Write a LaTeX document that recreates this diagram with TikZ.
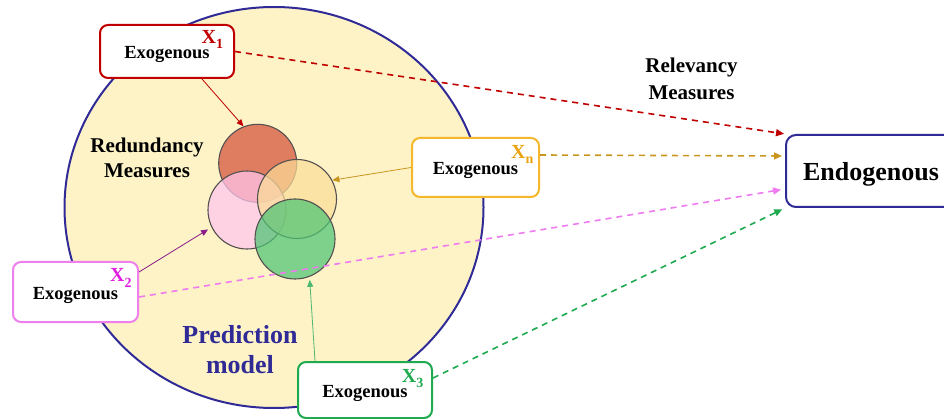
\documentclass[tikz,border=0pt]{standalone}
\usepackage{fontspec}
\setmainfont{Liberation Serif}
\usetikzlibrary{arrows.meta}

\definecolor{navy}{HTML}{2F2A96}
\definecolor{modelbg}{HTML}{FDF3C7}
\definecolor{xone}{HTML}{C00000}
\definecolor{xnbox}{HTML}{F5B82C}
\definecolor{xnlab}{HTML}{E9A40F}
\definecolor{xnline}{HTML}{C8961E}
\definecolor{xtwobox}{HTML}{EE80EE}
\definecolor{xtwolab}{HTML}{E21DE2}
\definecolor{xtwoline}{HTML}{F07AF0}
\definecolor{xtwoarrow}{HTML}{8B1A8B}
\definecolor{xthree}{HTML}{1FAA50}
\definecolor{xthreearrow}{HTML}{4CB870}
\definecolor{setline}{HTML}{555050}
\definecolor{setred}{HTML}{D4503A}
\definecolor{setpink}{HTML}{FFC6EE}
\definecolor{setyellow}{HTML}{FBDC98}
\definecolor{setgreen}{HTML}{4CC474}

\begin{document}
\begin{tikzpicture}[x=1pt,y=-1pt,
  exo/.style={draw, fill=white, rounded corners=8pt, line width=2pt,
    font=\fontsize{18.5}{22}\selectfont\bfseries, inner sep=0pt,
    text height=15pt, text depth=0pt},
  sublab/.style={font=\fontsize{20}{24}\selectfont\bfseries, anchor=base west, inner sep=0pt},
  caption/.style={font=\fontsize{21}{25}\selectfont\bfseries, anchor=base, inner sep=0pt},
  modeltext/.style={font=\fontsize{26}{30}\selectfont\bfseries, anchor=base, inner sep=0pt, text=navy},
  setcircle/.style={circle, draw=setline, line width=1.1pt, inner sep=0pt, fill opacity=0.72},
  feed/.style={line width=0.8pt, -{Triangle[length=7pt,width=6pt]}},
  rel/.style={line width=1.6pt, dash pattern=on 6pt off 5pt, -{Triangle[length=8pt,width=7pt]}},
]
\useasboundingbox (0,0) rectangle (944,419);

% prediction model region
\draw[navy, line width=2pt, fill=modelbg] (274,207.5) ellipse [x radius=209.5, y radius=200.5];

% overlapping variable sets
\node[setcircle, fill=setred,    minimum size=78pt] (rc) at (257.7,163.3) {};
\node[setcircle, fill=setpink,   minimum size=78pt] (pc) at (247,210) {};
\node[setcircle, fill=setyellow, minimum size=79pt] (yc) at (297,199) {};
\node[setcircle, fill=setgreen,  minimum size=80pt] (gc) at (295,239) {};

% captions
\node[caption] (red1) at (147,153) {Redundancy};
\node[caption] (red2) at (147,178) {Measures};
\node[caption] (rel1) at (691.5,73) {Relevancy};
\node[caption] (rel2) at (691.5,100) {Measures};
\node[modeltext] (pm1) at (240,343) {Prediction};
\node[modeltext] (pm2) at (240,373) {model};

% exogenous inputs
\node[exo, draw=xone, minimum width=134pt, minimum height=53pt] (x1) at (167,51.5) {Exogenous};
\node[exo, draw=xnbox, minimum width=127pt, minimum height=59pt] (xn) at (475.5,167.5) {Exogenous};
\node[exo, draw=xtwobox, minimum width=125pt, minimum height=60pt] (x2) at (75.5,292) {Exogenous};
\node[exo, draw=xthree, minimum width=134pt, minimum height=56pt] (x3) at (365,390) {Exogenous};

\node[sublab, text=xone]   (x1lab) at (201.5,43.3)  {X\raisebox{-5.5pt}{\fontsize{14}{14}\selectfont 1}};
\node[sublab, text=xnlab]  (xnlab) at (511,158.3)   {X\raisebox{-5pt}{\fontsize{14}{14}\selectfont n}};
\node[sublab, text=xtwolab] (x2lab) at (110,281.7)  {X\raisebox{-5.5pt}{\fontsize{14}{14}\selectfont 2}};
\node[sublab, text=xthree] (x3lab) at (401.7,382.3) {X\raisebox{-5.5pt}{\fontsize{14}{14}\selectfont 3}};

% endogenous output
\node[draw=navy, line width=2pt, rounded corners=10pt, fill=white,
      minimum width=170pt, minimum height=72pt, inner sep=0pt,
      font=\fontsize{26}{30}\selectfont\bfseries, text height=20pt, text depth=0pt]
      (endo) at (871,171) {Endogenous};

% inputs feeding the sets
\draw[feed, xone] ([xshift=35pt]x1.south) -- (rc.111);
\draw[feed, xnline] (xn.west) -- (yc.28);
\draw[feed, xtwoarrow, shorten >=4pt] ([yshift=20pt]x2.east) -- (pc.206);
\draw[feed, xthreearrow, shorten >=3pt] ([xshift=-50pt]x3.north) -- (gc.291);

% relevancy links
\draw[rel, xone, shorten >=1pt] (x1.east) -- (endo.north west);
\draw[rel, xnline, shorten >=3pt] ([yshift=12.5pt]xn.east) -- ([yshift=15pt]endo.west);
\draw[rel, xtwoline, shorten >=4pt] ([yshift=-5pt]x2.east) -- ([yshift=-18pt]endo.west);
\draw[rel, xthree, shorten >=3pt] ([yshift=12pt]x3.east) -- (endo.south west);
\end{tikzpicture}
\end{document}
